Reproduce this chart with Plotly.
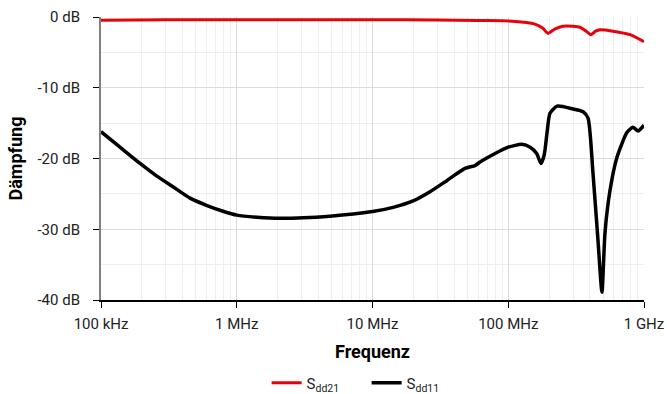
import plotly.graph_objects as go

# Sdd21 (red)
f21 = [1e5, 3e5, 1e6, 3e6, 1e7, 3e7, 6e7, 1e8, 1.3e8, 1.57e8, 1.8e8, 1.96e8, 2.2e8, 2.53e8, 3.0e8, 3.38e8, 3.75e8, 4.07e8, 4.4e8, 4.74e8, 5.9e8, 7.9e8, 1e9]
s21 = [-0.45, -0.4, -0.38, -0.38, -0.38, -0.42, -0.5, -0.55, -0.75, -1.0, -1.6, -2.3, -1.7, -1.3, -1.3, -1.45, -2.0, -2.5, -2.0, -1.8, -2.0, -2.5, -3.5]

# Sdd11 (black)
f11 = [1e5, 1.38e5, 1.94e5, 2.58e5, 3.39e5, 4.53e5, 6.04e5, 7.92e5, 1e6, 1.41e6, 2.08e6, 4.86e6, 1e7, 1.42e7, 1.99e7, 2.65e7, 3.54e7, 4.8e7, 5.69e7, 6.2e7, 8e7, 1e8, 1.26e8, 1.45e8, 1.62e8, 1.74e8, 1.84e8, 1.93e8, 2.03e8, 2.29e8, 3.0e8, 3.56e8, 3.87e8, 4.21e8, 4.58e8, 4.9e8, 5.16e8, 5.62e8, 6.33e8, 7.5e8, 8.3e8, 9.04e8, 1e9]
s11 = [-16.2, -18.4, -20.7, -22.5, -24.0, -25.6, -26.65, -27.45, -28.0, -28.3, -28.45, -28.15, -27.5, -26.9, -26.0, -24.7, -23.1, -21.4, -21.0, -20.5, -19.3, -18.4, -18.0, -18.4, -19.3, -20.7, -19.5, -16.4, -13.6, -12.6, -13.0, -13.4, -14.3, -22.1, -31.5, -38.9, -30.5, -24.5, -19.8, -16.3, -15.6, -16.1, -15.3]

xtickvals = [1e5, 1e6, 1e7, 1e8, 1e9]
xticktext = ["100 kHz", "1 MHz", "10 MHz", "100 MHz", "1 GHz"]
ytickvals = [0, -10, -20, -30, -40]
yticktext = ["0 dB", "-10 dB", "-20 dB", "-30 dB", "-40 dB"]

FONT = "Roboto, Liberation Sans, sans-serif"

fig = go.Figure()
fig.add_trace(go.Scatter(x=f21, y=s21, mode="lines", name="S<sub>dd21</sub>",
                         line=dict(color="#e8000b", width=3, shape="spline", smoothing=0.6)))
fig.add_trace(go.Scatter(x=f11, y=s11, mode="lines", name="S<sub>dd11</sub>",
                         line=dict(color="#000000", width=3.5, shape="spline", smoothing=0.6)))

fig.update_layout(
    width=667, height=394,
    margin=dict(l=101, r=23, t=17, b=94, autoexpand=False),
    paper_bgcolor="white", plot_bgcolor="white",
    font=dict(family=FONT, size=15, color="#222222"),
    showlegend=True,
    legend=dict(orientation="h", x=0.305, xanchor="left", y=-0.293, yanchor="middle",
                font=dict(size=15), entrywidth=55, entrywidthmode="pixels",
                bgcolor="rgba(0,0,0,0)"),
    xaxis=dict(type="log", range=[5, 9], tickvals=xtickvals, ticktext=xticktext,
               automargin=False, ticklabelstandoff=3,
               showgrid=True, gridcolor="#dcdcdc", gridwidth=1,
               minor=dict(dtick="D1", showgrid=True, gridcolor="#efefef", ticks=""),
               showline=True, linecolor="#000000", linewidth=1.5,
               ticks="outside", ticklen=6, tickcolor="#000000",
               zeroline=False,
               title=dict(text="<b>Frequenz</b>", font=dict(size=18, color="#000000"), standoff=14)),
    yaxis=dict(range=[-40, 0], tickvals=ytickvals, ticktext=yticktext,
               automargin=False, ticklabelstandoff=10,
               showgrid=True, gridcolor="#dcdcdc", gridwidth=1,
               minor=dict(dtick=5, showgrid=True, gridcolor="#efefef", ticks=""),
               showline=True, linecolor="#808080", linewidth=2,
               ticks="outside", ticklen=6, tickcolor="#000000",
               zeroline=False,
               title=dict(text="<b>Dämpfung</b>", font=dict(size=18, color="#000000"), standoff=10)),
)

fig.write_html("out.html")
